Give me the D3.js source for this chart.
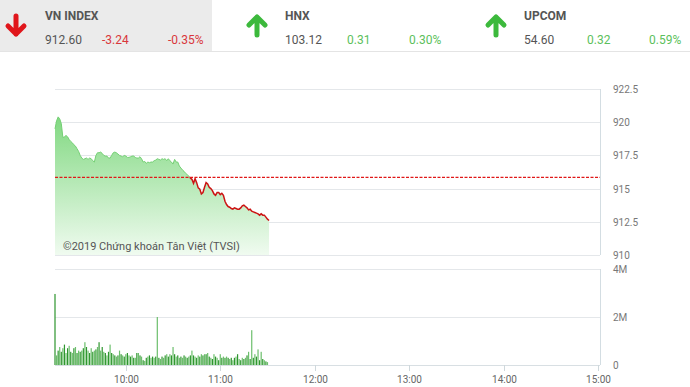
<!DOCTYPE html>
<html>
<head>
<meta charset="utf-8">
<script src="https://cdn.jsdelivr.net/npm/d3@7"></script>
<style>
  body { margin: 0; background: #fff; font-family: Roboto, "Liberation Sans", sans-serif; }
  svg { display: block; }
</style>
</head>
<body>
<svg id="chart" width="690" height="387"></svg>
<script>
const SESSION_START = "09:15";
const SESSION_END = "15:00";
const REF_PRICE = 915.84;

const indexNames = ["VN INDEX", "HNX", "UPCOM"];
const indexValues = [912.6, 103.12, 54.6];
const indexChanges = [-3.24, 0.31, 0.32];
const indexPercents = [-0.35, 0.3, 0.59];

const priceTicks = [910, 912.5, 915, 917.5, 920, 922.5];
const volumeTicks = [0, 2e6, 4e6];
const timeTicks = ["10:00", "11:00", "12:00", "13:00", "14:00", "15:00"];

// VN-Index, one point per minute starting 09:15
const prices = [
  919.5, 920.1, 920.4, 920.25, 919.9, 918.85, 918.9, 919.0, 918.9, 918.7,
  918.55, 918.45, 918.3, 918.2, 918.0, 917.8, 917.5, 917.3, 917.2, 917.25,
  917.3, 917.2, 917.3, 917.25, 917.1, 917.0, 917.5, 917.7, 917.7, 917.75,
  917.65, 917.5, 917.45, 917.45, 917.3, 917.3, 917.5, 917.7, 917.75, 917.7,
  917.6, 917.5, 917.45, 917.4, 917.5, 917.45, 917.35, 917.35, 917.4, 917.45,
  917.45, 917.35, 917.3, 917.3, 917.4, 917.25, 917.0, 917.05, 916.9, 917.0,
  916.95, 917.0, 917.0, 917.1, 917.15, 917.25, 917.2, 917.15, 917.25, 917.2,
  917.25, 917.1, 917.25, 917.1, 917.0, 916.85, 917.2, 917.0, 917.0, 916.7,
  916.55, 916.4, 916.3, 916.15, 916.05, 915.95, 915.8, 915.7, 915.4, 915.75,
  915.45, 915.05, 914.95, 914.6, 914.7, 915.1, 915.45, 915.35, 915.1, 915.0,
  914.85, 914.6, 914.5, 914.7, 914.7, 914.55, 914.65, 914.5, 914.05, 913.8,
  913.65, 913.6, 913.5, 913.45, 913.55, 913.5, 913.45, 913.45, 913.55, 913.7,
  913.75, 913.65, 913.55, 913.4, 913.45, 913.3, 913.25, 913.2, 913.15, 913.1,
  913.0, 913.1, 913.0, 913.0, 912.85, 912.7, 912.6
];

// Matched volume per minute, millions of shares, starting 09:15
const volumes = [
  2.96, 0.4, 0.6, 0.75, 0.55, 0.7, 0.85, 0.5, 0.7, 0.8,
  0.55, 0.5, 0.7, 0.75, 0.5, 0.6, 0.55, 0.6, 0.7, 0.95,
  0.75, 0.6, 0.5, 0.7, 0.55, 0.6, 0.65, 0.75, 0.95, 0.6,
  0.75, 0.55, 0.5, 0.4, 0.55, 0.85, 0.5, 0.45, 0.4, 0.35,
  0.4, 0.6, 0.45, 0.4, 0.35, 0.45, 0.5, 0.4, 0.35, 0.4,
  0.3, 0.3, 0.5, 0.5, 0.4, 0.35, 0.2, 0.17, 0.3, 0.35,
  0.4, 0.3, 0.35, 0.3, 0.35, 2.0,
  0.3, 0.25, 0.35, 0.3, 0.4, 0.45, 0.35, 0.45, 0.4, 0.75,
  0.45, 0.35, 0.4, 0.3, 0.35, 0.3, 0.4, 0.35, 0.3, 0.35,
  0.4, 0.6, 0.4, 0.35, 0.3, 0.4, 0.35, 0.45, 0.4, 0.45,
  0.45, 0.5, 0.35, 0.3, 0.25, 0.45, 0.35, 0.3, 0.2, 0.45,
  0.3, 0.35, 0.3, 0.35, 0.3, 0.25, 0.3, 0.2, 0.3, 0.35,
  0.45, 0.25, 0.2, 0.3, 0.25, 0.3, 0.4, 0.55, 0.25, 1.45,
  0.3, 0.45, 0.35, 0.65, 0.2, 0.55, 0.25, 0.2, 0.15, 0.12
];

const parseTime = d3.timeParse("%H:%M");
const startTime = parseTime(SESSION_START);

/**
 * Time of the i-th minute of the session
 * @param {Number} i
 * @return {Date}
 */
function minuteAt(i) {
  return d3.timeMinute.offset(startTime, i);
}

const svg = d3.select("#chart");

const plotLeft = 55;
const plotRight = 600;
const x = d3.scaleTime()
  .domain([startTime, parseTime(SESSION_END)])
  .range([55, 598]);
const yPrice = d3.scaleLinear().domain([910, 922.5]).range([255, 89]);
const yVol = d3.scaleLinear().domain([0, 4e6]).range([365, 269]);

drawHeader();
drawPriceChart();
drawVolumeChart();

/**
 * Draws the three index summaries across the top
 */
function drawHeader() {
  const cols = [
    [16, 45, 102, 168],
    [257, 285, 347, 409],
    [496, 524, 587, 649],
  ];

  svg.append("rect")
    .attr("x", 0).attr("y", 0)
    .attr("width", 212).attr("height", 51)
    .attr("fill", "#ebebeb");
  svg.append("line")
    .attr("x1", 0).attr("x2", 690)
    .attr("y1", 51.5).attr("y2", 51.5)
    .attr("stroke", "#e4e4e4");

  indexNames.forEach(function (name, i) {
    const c = cols[i];
    const up = indexChanges[i] >= 0;
    const color = up ? "#3cb93c" : "#e0161b";
    const textColor = up ? "#5cbf5c" : "#d9373b";

    // Arrow
    const top = 15, bottom = 36;
    const arrow = up
      ? "M" + c[0] + "," + (bottom - 1) + "L" + c[0] + "," + (top + 2) +
        "M" + (c[0] - 8) + "," + (top + 10) + "L" + c[0] + "," + (top + 2) + "L" + (c[0] + 8) + "," + (top + 10)
      : "M" + c[0] + "," + (top + 1) + "L" + c[0] + "," + (bottom - 2) +
        "M" + (c[0] - 8) + "," + (bottom - 10) + "L" + c[0] + "," + (bottom - 2) + "L" + (c[0] + 8) + "," + (bottom - 10);
    svg.append("path")
      .attr("d", arrow)
      .attr("fill", "none")
      .attr("stroke", color)
      .attr("stroke-width", 5)
      .attr("stroke-linecap", "round")
      .attr("stroke-linejoin", "round");

    svg.append("text")
      .attr("x", c[1]).attr("y", 20)
      .style("font-size", "12px")
      .style("font-weight", "bold")
      .attr("fill", "#555")
      .text(name);
    svg.append("text")
      .attr("x", c[1]).attr("y", 44)
      .style("font-size", "12px")
      .attr("fill", "#555")
      .text(indexValues[i].toFixed(2));
    svg.append("text")
      .attr("x", c[2]).attr("y", 44)
      .style("font-size", "12px")
      .attr("fill", textColor)
      .text(indexChanges[i].toFixed(2));
    svg.append("text")
      .attr("x", c[3]).attr("y", 44)
      .style("font-size", "12px")
      .attr("fill", textColor)
      .text(indexPercents[i].toFixed(2) + "%");
  });
}

/**
 * Draws the intraday index line with its area and reference line
 */
function drawPriceChart() {
  const defs = svg.append("defs");
  const grad = defs.append("linearGradient")
    .attr("id", "area-grad")
    .attr("gradientUnits", "userSpaceOnUse")
    .attr("x1", 0).attr("x2", 0)
    .attr("y1", yPrice(920.5)).attr("y2", yPrice(910));
  grad.append("stop").attr("offset", 0).attr("stop-color", "#80d880");
  grad.append("stop").attr("offset", 1).attr("stop-color", "#f0fbf0");

  const refY = yPrice(REF_PRICE);
  defs.append("clipPath").attr("id", "clip-above")
    .append("rect").attr("x", 0).attr("y", 0).attr("width", 690).attr("height", refY);
  defs.append("clipPath").attr("id", "clip-below")
    .append("rect").attr("x", 0).attr("y", refY).attr("width", 690).attr("height", 387 - refY);

  // Grid
  svg.append("g")
    .selectAll("line")
    .data(priceTicks)
    .enter()
    .append("line")
    .attr("x1", plotLeft).attr("x2", plotRight)
    .attr("y1", function (d) { return Math.round(yPrice(d)) + 0.5; })
    .attr("y2", function (d) { return Math.round(yPrice(d)) + 0.5; })
    .attr("stroke", "#e4e7ea");

  svg.append("line")
    .attr("x1", plotRight + 0.5).attr("x2", plotRight + 0.5)
    .attr("y1", yPrice(922.5)).attr("y2", yPrice(910))
    .attr("stroke", "#d3dde2");

  // Tick labels
  svg.append("g")
    .selectAll("text")
    .data(priceTicks)
    .enter()
    .append("text")
    .attr("x", 613)
    .attr("y", function (d) { return yPrice(d) + 4; })
    .style("font-size", "10px")
    .attr("fill", "#777")
    .text(function (d) { return d; });

  const area = d3.area()
    .x(function (d, i) { return x(minuteAt(i)); })
    .y0(yPrice(910))
    .y1(function (d) { return yPrice(d); });
  svg.append("path")
    .datum(prices)
    .attr("d", area)
    .attr("fill", "url(#area-grad)");

  const line = d3.line()
    .x(function (d, i) { return x(minuteAt(i)); })
    .y(function (d) { return yPrice(d); });
  svg.append("path")
    .datum(prices)
    .attr("d", line)
    .attr("fill", "none")
    .attr("stroke", "#74cf74")
    .attr("stroke-width", 1)
    .attr("clip-path", "url(#clip-above)");
  svg.append("path")
    .datum(prices)
    .attr("d", line)
    .attr("fill", "none")
    .attr("stroke", "#cc1414")
    .attr("stroke-width", 1.5)
    .attr("clip-path", "url(#clip-below)");

  // Reference line
  svg.append("line")
    .attr("x1", plotLeft).attr("x2", plotRight)
    .attr("y1", refY).attr("y2", refY)
    .attr("stroke", "#e01818")
    .attr("stroke-width", 1.3)
    .attr("stroke-dasharray", "3,1.5");

  svg.append("text")
    .attr("x", 63).attr("y", 250)
    .style("font-size", "11px")
    .attr("fill", "#555")
    .text("©2019 Chứng khoán Tân Việt (TVSI)");
}

/**
 * Draws the volume bars and the shared time axis
 */
function drawVolumeChart() {
  svg.append("g")
    .selectAll("line")
    .data(volumeTicks)
    .enter()
    .append("line")
    .attr("x1", plotLeft).attr("x2", plotRight)
    .attr("y1", function (d) { return Math.round(yVol(d)) + 0.5; })
    .attr("y2", function (d) { return Math.round(yVol(d)) + 0.5; })
    .attr("stroke", function (d) { return d === 0 ? "#d8dfe3" : "#e4e7ea"; });

  svg.append("line")
    .attr("x1", plotRight + 0.5).attr("x2", plotRight + 0.5)
    .attr("y1", yVol(4e6)).attr("y2", yVol(0))
    .attr("stroke", "#d3dde2");

  svg.append("g")
    .selectAll("text")
    .data(volumeTicks)
    .enter()
    .append("text")
    .attr("x", 613)
    .attr("y", function (d) { return yVol(d) + 4; })
    .style("font-size", "10px")
    .attr("fill", "#777")
    .text(function (d) { return d === 0 ? "0" : d / 1e6 + "M"; });

  svg.append("g")
    .selectAll("rect")
    .data(volumes)
    .enter()
    .append("rect")
    .attr("x", function (d, i) { return x(minuteAt(i)) - 0.6; })
    .attr("y", function (d) { return yVol(d * 1e6); })
    .attr("width", 1.2)
    .attr("height", function (d) { return yVol(0) - yVol(d * 1e6); })
    .attr("fill", function (d, i) { return i % 2 ? "#6cbf6c" : "#2f962f"; });

  // Time axis
  const ticks = svg.append("g");
  timeTicks.forEach(function (t) {
    const tx = Math.round(x(parseTime(t))) + 0.5;
    ticks.append("line")
      .attr("x1", tx).attr("x2", tx)
      .attr("y1", yVol(0)).attr("y2", yVol(0) + 6)
      .attr("stroke", "#cfd8dc");
    ticks.append("text")
      .attr("x", tx).attr("y", 383)
      .attr("text-anchor", "middle")
      .style("font-size", "10px")
      .attr("fill", "#666")
      .text(t);
  });
}
</script>
</body>
</html>
